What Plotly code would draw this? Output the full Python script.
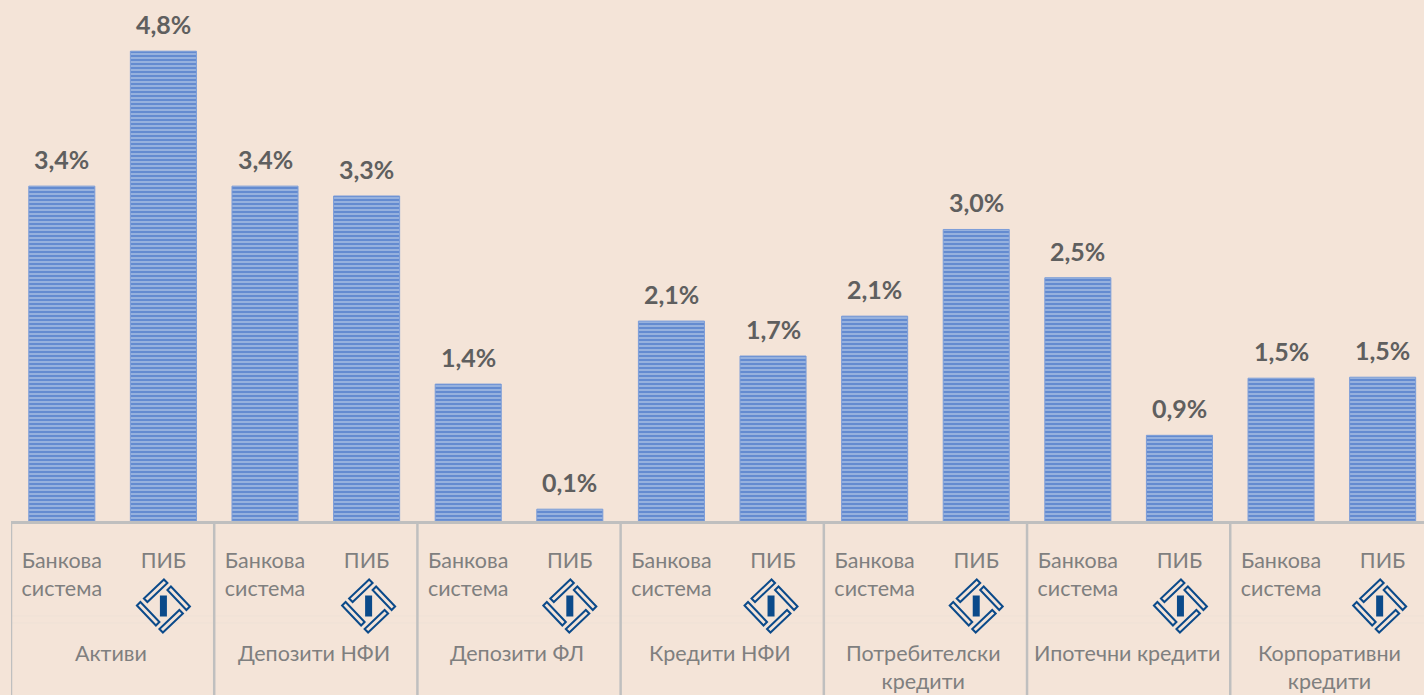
import plotly.graph_objects as go

groups = ["Активи", "Депозити НФИ", "Депозити ФЛ", "Кредити НФИ",
          "Потребителски<br>кредити", "Ипотечни кредити", "Корпоративни<br>кредити"]
series_names = ["Банкова<br>система", "ПИБ"]
values = [3.40, 4.77, 3.40, 3.30, 1.39, 0.12, 2.03, 1.675, 2.08, 2.96, 2.47, 0.87, 1.45, 1.46]
labels = ["3,4%", "4,8%", "3,4%", "3,3%", "1,4%", "0,1%", "2,1%", "1,7%",
          "2,1%", "3,0%", "2,5%", "0,9%", "1,5%", "1,5%"]
logo_offsets = [0, 2, 0, -2, 0, 1, -3]

BG = "#F4E4D8"
GRID = "#BFBFBF"
TXT = "#7F7F7F"
NAVY = "#0B4A8A"
FONT = "Lato, Carlito, 'Open Sans', sans-serif"

x = list(range(len(values)))
fig = go.Figure(go.Bar(
    x=x, y=values, width=0.65,
    marker=dict(color="#6A90D2",
                line=dict(color="#7C9DD8", width=1),
                pattern=dict(shape="-", size=4, solidity=0.38,
                             fgcolor="#A6BEE3", bgcolor="#648BD0", fillmode="replace")),
    cliponaxis=False, hoverinfo="skip",
))

annotations = []
for i, (v, l) in enumerate(zip(values, labels)):
    annotations.append(dict(x=i, y=v, xref="x", yref="y", text=f"<b>{l}</b>", showarrow=False,
                            yanchor="bottom", yshift=10,
                            font=dict(family=FONT, size=25, color="#5F5F5F")))
for g, name in enumerate(groups):
    annotations.append(dict(x=2 * g + 0.5, y=0, xref="x", yref="paper", text=name, showarrow=False,
                            yanchor="top", yshift=-117, xshift=-2, align="center",
                            font=dict(family=FONT, size=21.5, color=TXT)))

shapes = []
for g in range(len(groups) + 1):
    shapes.append(dict(type="line", xref="x", yref="paper", x0=2 * g - 0.5, x1=2 * g - 0.5,
                       y0=0, y1=-0.34, line=dict(color=GRID, width=2.5)))
for drop in (95, 102):
    shapes.append(dict(type="line", xref="paper", yref="paper", ysizemode="pixel", yanchor=0,
                       x0=0, x1=1, y0=-drop, y1=-drop, line=dict(color="#EEE1D6", width=1),
                       layer="below"))

# logo outline bars, pixel offsets from the logo centre (y up)
pinwheel = [
    [(0.5, 26.5), (-19.5, 7.5), (-16, 4), (4, 23)],
    [(26.5, -0.5), (7.5, 19.5), (4, 16), (23, -4)],
    [(-0.5, -26.5), (19.5, -7.5), (16, -4), (-4, -23)],
    [(-26.5, 0.5), (-7.5, -19.5), (-4, -16), (-23, 4)],
]
LOGO_DROP = 85
for g, off in enumerate(logo_offsets):
    ax = 2 * g + 1
    for bar in pinwheel:
        path = "M" + " L".join(f"{a + off:g},{b - LOGO_DROP:g}" for a, b in bar) + " Z"
        shapes.append(dict(type="path", xref="x", yref="paper", xsizemode="pixel", ysizemode="pixel",
                           xanchor=ax, yanchor=0, path=path,
                           line=dict(color=NAVY, width=2), fillcolor="rgba(0,0,0,0)"))
    shapes.append(dict(type="rect", xref="x", yref="paper", xsizemode="pixel", ysizemode="pixel",
                       xanchor=ax, yanchor=0, x0=-3.5 + off, x1=3.5 + off,
                       y0=-LOGO_DROP - 10.5, y1=-LOGO_DROP + 10.5,
                       fillcolor=NAVY, line=dict(width=0)))

fig.update_layout(
    width=1424, height=695, autosize=False,
    margin=dict(l=11, r=0, t=0, b=174),
    paper_bgcolor=BG, plot_bgcolor=BG, showlegend=False,
    font=dict(family=FONT),
    xaxis=dict(range=[-0.5, 13.407], showgrid=False, zeroline=False, showline=True,
               linecolor=GRID, linewidth=3,
               tickmode="array", tickvals=x,
               ticktext=[series_names[i % 2] for i in x],
               ticks="outside", ticklen=18, tickcolor="rgba(0,0,0,0)",
               tickangle=0,
               tickfont=dict(family=FONT, size=21.5, color=TXT)),
    yaxis=dict(range=[0, 5.29], visible=False, showgrid=False, zeroline=False),
    annotations=annotations, shapes=shapes,
)
fig.write_html("out.html", config={"displayModeBar": False},
               post_script="document.body.style.margin='0';document.body.style.background='#F4E4D8';document.documentElement.style.overflow='hidden';")
